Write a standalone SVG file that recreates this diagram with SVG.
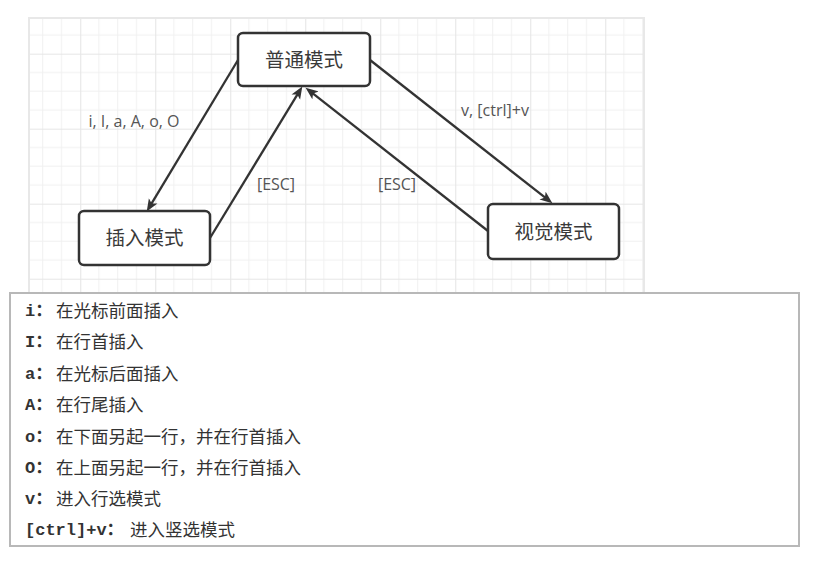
<svg xmlns="http://www.w3.org/2000/svg" width="824" height="562" viewBox="0 0 824 562">
  <defs>
    <pattern id="grid" x="5.2" y="-21.3" width="75" height="75" patternUnits="userSpaceOnUse">
      <path d="M18.75 0V75M37.5 0V75M56.25 0V75M0 18.75H75M0 37.5H75M0 56.25H75" stroke="#f0f0f0" stroke-width="1" fill="none"/>
      <path d="M0.5 0V75M0 0.5H75" stroke="#e6e6e6" stroke-width="1.2" fill="none"/>
    </pattern>
    <marker id="arrow" viewBox="0 0 13 11" refX="5" refY="5.5" markerWidth="13" markerHeight="11" markerUnits="userSpaceOnUse" orient="auto">
      <path d="M0 0.5L12.5 5.5L0 10.5L3 5.5Z" fill="#333333"/>
    </marker>
  </defs>
  <style>
    .node rect { fill: #ffffff; stroke: #333333; stroke-width: 2.5; }
    .node text { font-family: "Noto Sans CJK SC", "Noto Sans", sans-serif; font-size: 19.5px; fill: #3a3a3a; text-anchor: middle; }
    .edge { fill: none; stroke: #333333; stroke-width: 2.3; marker-end: url(#arrow); }
    .elabel { font-family: "Open Sans", "Liberation Sans", sans-serif; font-size: 16px; fill: #555555; text-anchor: middle; }
    .key { font-family: "Liberation Mono", "Noto Sans CJK SC", monospace; font-size: 17px; font-weight: bold; fill: #333333; }
    .desc { font-family: "Noto Sans CJK SC", "Noto Sans", sans-serif; font-size: 17.5px; fill: #333333; }
  </style>
  <rect width="824" height="562" fill="#ffffff"/>
  <g id="grid-bg">
    <rect x="30" y="19" width="614" height="274" fill="url(#grid)"/>
    <path d="M29 293V18H644V293" fill="none" stroke="#e8e8e8" stroke-width="2"/>
  </g>
  <g id="connectors">
    <path class="edge" d="M238 60L150.6 205.1"/>
    <path class="edge" d="M210 238L298.4 92.9"/>
    <path class="edge" d="M488 231L311.5 92.3"/>
    <path class="edge" d="M370 60L546.5 198.7"/>
    <text class="elabel" x="134" y="127">i, I, a, A, o, O</text>
    <text class="elabel" x="495" y="116">v, [ctrl]+v</text>
    <text class="elabel" x="276" y="190">[ESC]</text>
    <text class="elabel" x="397" y="190">[ESC]</text>
  </g>
  <g id="node-normal" class="node">
    <rect x="238" y="33" width="132" height="53" rx="5"/>
    <text x="304" y="67">普通模式</text>
  </g>
  <g id="node-insert" class="node">
    <rect x="79" y="211" width="131" height="54" rx="5"/>
    <text x="144.5" y="245">插入模式</text>
  </g>
  <g id="node-visual" class="node">
    <rect x="488" y="204" width="131" height="55" rx="5"/>
    <text x="553.5" y="239">视觉模式</text>
  </g>
  <g id="notes">
    <rect x="10" y="293" width="789" height="253" fill="#ffffff" stroke="#b8b8b8" stroke-width="2"/>
    <text class="key" x="25" y="316">i：</text><text class="desc" x="56" y="317">在光标前面插入</text>
    <text class="key" x="25" y="347">I：</text><text class="desc" x="56" y="348">在行首插入</text>
    <text class="key" x="25" y="379">a：</text><text class="desc" x="56" y="380">在光标后面插入</text>
    <text class="key" x="25" y="410">A：</text><text class="desc" x="56" y="411">在行尾插入</text>
    <text class="key" x="25" y="442">o：</text><text class="desc" x="56" y="443">在下面另起一行，并在行首插入</text>
    <text class="key" x="25" y="473">O：</text><text class="desc" x="56" y="474">在上面另起一行，并在行首插入</text>
    <text class="key" x="25" y="504">v：</text><text class="desc" x="56" y="505">进入行选模式</text>
    <text class="key" x="25" y="535">[ctrl]+v：</text><text class="desc" x="130" y="536">进入竖选模式</text>
  </g>
</svg>
